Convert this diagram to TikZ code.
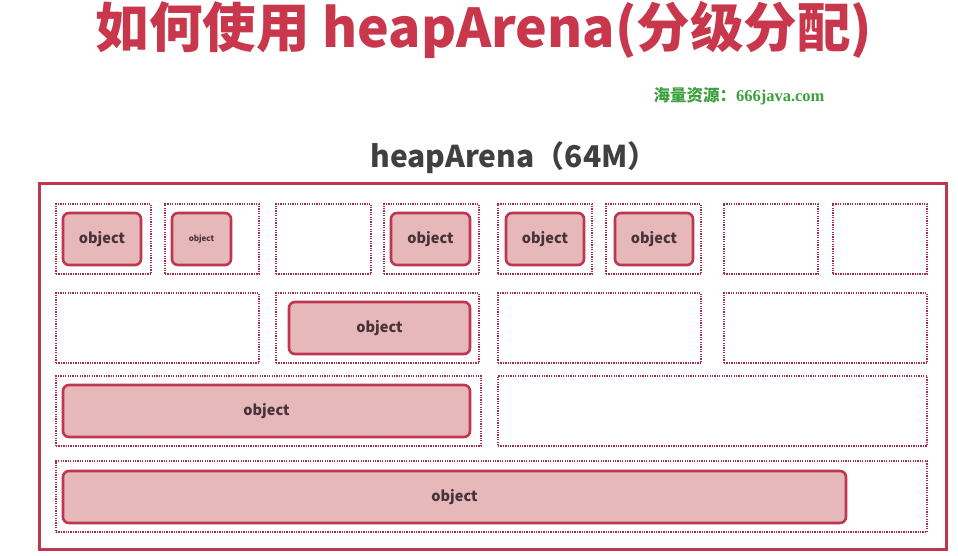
\documentclass[tikz,border=0pt]{standalone}
\usepackage{fontspec}
\setmainfont{Liberation Serif}
\newfontfamily\cjk{Noto Sans CJK SC}
\newfontfamily\serifb{Liberation Serif}
\usetikzlibrary{positioning}
\definecolor{redb}{RGB}{190,55,78}
\definecolor{titler}{RGB}{200,55,75}
\definecolor{objfill}{RGB}{230,184,185}
\definecolor{dotc}{RGB}{165,45,75}
\definecolor{txtd}{RGB}{64,64,64}
\definecolor{objtxt}{RGB}{70,50,55}
\definecolor{greenc}{RGB}{60,160,60}
\tikzset{
  dbox/.style={draw=dotc, dash pattern=on 1.3pt off 1.1pt, line width=1.5pt, minimum height=70pt, inner sep=0pt},
  obj/.style={draw=redb, fill=objfill, line width=2.6pt, rounded corners=6pt, minimum height=52pt, inner sep=0pt,
    font=\cjk\bfseries\fontsize{14.5}{18}\selectfont, text=objtxt},
  objs/.style={obj, font=\cjk\bfseries\fontsize{8}{10}\selectfont},
  outer/.style={draw=redb, line width=3pt, inner sep=0pt}
}
\begin{document}
\begin{tikzpicture}[x=1pt,y=-1pt]
\useasboundingbox (0,0) rectangle (958,556);
\fill[white] (0,0) rectangle (958,556);
% titles
\node[font=\cjk\bfseries\fontsize{53.5}{60}\selectfont, text=titler] (title) at (484,30) {如何使用 heapArena(分级分配)};
\node[font=\bfseries\fontsize{16.5}{19}\selectfont, text=greenc, anchor=west] (src) at (650,96) {{\cjk 海量资源：}{\serifb 666java.com}};
\node[font=\cjk\bfseries\fontsize{30}{34}\selectfont, text=txtd] (arena) at (514,158) {heapArena（64M）};
% outer
\node[outer, minimum width=907pt, minimum height=365pt] (outerbox) at (492.5,366.5) {};
% row 1
\node[dbox, minimum width=95pt] (d11) at (103.5,239) {};
\node[dbox, minimum width=94pt] (d12) at (212,239) {};
\node[dbox, minimum width=95pt] (d13) at (323.5,239) {};
\node[dbox, minimum width=95pt] (d14) at (431.5,239) {};
\node[dbox, minimum width=94pt] (d15) at (545,239) {};
\node[dbox, minimum width=95pt] (d16) at (653.5,239) {};
\node[dbox, minimum width=94pt] (d17) at (771,239) {};
\node[dbox, minimum width=94pt] (d18) at (880,239) {};
\node[obj, minimum width=78pt] (o11) at (102,239) {object};
\node[objs, minimum width=59pt] (o12) at (201.5,239) {object};
\node[obj, minimum width=79pt] (o14) at (430.5,239) {object};
\node[obj, minimum width=78pt] (o15) at (545,239) {object};
\node[obj, minimum width=78pt] (o16) at (654,239) {object};
% row 2
\node[dbox, minimum width=203pt] (d21) at (157.5,328) {};
\node[dbox, minimum width=203pt] (d22) at (377.5,328) {};
\node[dbox, minimum width=203pt] (d23) at (599.5,328) {};
\node[dbox, minimum width=203pt] (d24) at (825.5,328) {};
\node[obj, minimum width=181pt] (o22) at (379.5,328) {object};
% row 3
\node[dbox, minimum width=425pt] (d31) at (268.5,411) {};
\node[dbox, minimum width=429pt] (d32) at (712.5,411) {};
\node[obj, minimum width=407pt] (o31) at (266.5,411) {object};
% row 4
\node[dbox, minimum width=871pt, minimum height=71pt] (d41) at (491.5,496.5) {};
\node[obj, minimum width=783pt] (o41) at (454.5,497) {object};
\end{tikzpicture}
\end{document}
